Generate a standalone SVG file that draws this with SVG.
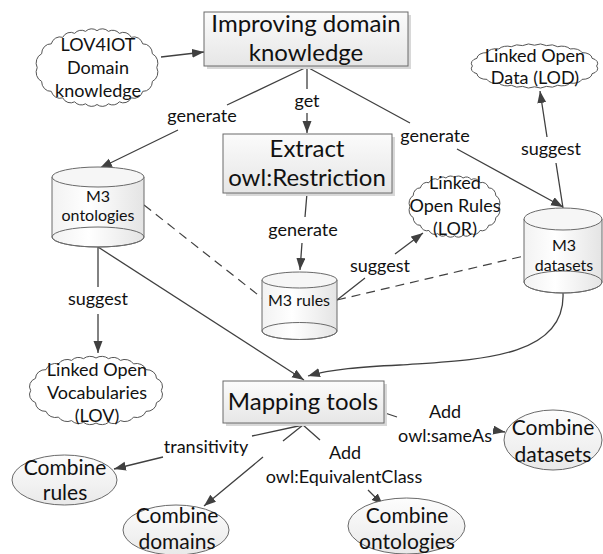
<svg xmlns="http://www.w3.org/2000/svg" xmlns:xlink="http://www.w3.org/1999/xlink" width="603" height="554" viewBox="0 0 603 554">
<defs>
<style>
.t{font-family:Lato,"Open Sans","Liberation Sans",sans-serif;fill:#111;text-anchor:middle}
.box{font-size:24px}
.lbl{font-size:18px}
.cl{font-size:18px}
.cyl{font-size:16px}
.ell{font-size:21px}
.ln{fill:none;stroke:#404040;stroke-width:1.3}
.dash{fill:none;stroke:#404040;stroke-width:1.2;stroke-dasharray:9,6}
.shape{stroke:#6a6a6a;stroke-width:1}
</style>
<linearGradient id="gBox" x1="0" y1="0" x2="0" y2="1">
<stop offset="0" stop-color="#fbfbfb"/><stop offset="1" stop-color="#e6e6e6"/>
</linearGradient>
<linearGradient id="gCyl" x1="0" y1="0" x2="1" y2="0">
<stop offset="0" stop-color="#f2f2f2"/><stop offset="0.4" stop-color="#ffffff"/><stop offset="1" stop-color="#e4e4e4"/>
</linearGradient>
<linearGradient id="gEll" x1="0" y1="0" x2="0" y2="1">
<stop offset="0" stop-color="#fdfdfd"/><stop offset="1" stop-color="#e9e9e9"/>
</linearGradient>
<marker id="arr" markerUnits="userSpaceOnUse" markerWidth="13" markerHeight="10" refX="12" refY="4.5" orient="auto">
<path d="M0,0 L12,4.5 L0,9 z" fill="#404040"/>
</marker>
<path id="cloud" vector-effect="non-scaling-stroke" fill="#fff" stroke="#555" stroke-width="1" d="M96,30 A7,7 0 0 1 92.6,39.7 A7,7 0 0 1 85.2,46.7 A7,7 0 0 1 76.4,51.3 A7,7 0 0 1 67.2,54.1 A7,7 0 0 1 58.8,55.5 A7,7 0 0 1 50,56 A7,7 0 0 1 41.2,55.5 A7,7 0 0 1 32.8,54.1 A7,7 0 0 1 23.6,51.3 A7,7 0 0 1 14.8,46.7 A7,7 0 0 1 7.4,39.7 A7,7 0 0 1 4,30 A7,7 0 0 1 7.4,20.3 A7,7 0 0 1 14.8,13.3 A7,7 0 0 1 23.6,8.7 A7,7 0 0 1 32.8,5.9 A7,7 0 0 1 41.2,4.5 A7,7 0 0 1 50,4 A7,7 0 0 1 58.8,4.5 A7,7 0 0 1 67.2,5.9 A7,7 0 0 1 76.4,8.7 A7,7 0 0 1 85.2,13.3 A7,7 0 0 1 92.6,20.3 A7,7 0 0 1 96,30 Z"/>
</defs>
<rect width="603" height="554" fill="#fff"/>

<g id="connectors">
<path class="ln" d="M161,57 L204,52" marker-end="url(#arr)"/>
<path class="ln" d="M307,67 L227,105 M178,130 L100,168" marker-end="url(#arr)"/>
<path class="ln" d="M307,67 L307,89 M307,113 L307,133" marker-end="url(#arr)"/>
<path class="ln" d="M307,67 L410,123 M457,149 L563,207" marker-end="url(#arr)"/>
<path class="ln" d="M563,208 L556,163 M547,137 L540,91" marker-end="url(#arr)"/>
<path class="ln" d="M307,193 L305,217 M302,243 L300,270" marker-end="url(#arr)"/>
<path class="ln" d="M337,300 L365,278 M395,254 L423,233" marker-end="url(#arr)"/>
<path class="dash" d="M144,205 L262,298"/>
<path class="dash" d="M337,300 L524,256"/>
<path class="ln" d="M98,247 L98,287 M98,314 L98,353" marker-end="url(#arr)"/>
<path class="ln" d="M98,247 L304,380" marker-end="url(#arr)"/>
<path class="ln" d="M563,293 C566,360 470,360 400,365 C360,367 332,369 308,376" marker-end="url(#arr)"/>
<path class="ln" d="M303,425 L252,436 M163,457 L114,469" marker-end="url(#arr)"/>
<path class="ln" d="M303,425 L283,441 M263,457 L204,506" marker-end="url(#arr)"/>
<path class="ln" d="M303,425 L320,440 M368,490 L383,505" marker-end="url(#arr)"/>
<path class="ln" d="M385,413 L397,417 M493,430 L505,432" marker-end="url(#arr)"/>
<text class="t lbl" x="202" y="122">generate</text>
<text class="t lbl" x="307" y="107">get</text>
<text class="t lbl" x="435" y="142">generate</text>
<text class="t lbl" x="551" y="155">suggest</text>
<text class="t lbl" x="303" y="236">generate</text>
<text class="t lbl" x="380" y="272">suggest</text>
<text class="t lbl" x="98" y="305">suggest</text>
<text class="t lbl" x="206" y="453">transitivity</text>
<text class="t lbl" x="445" y="418">Add</text>
<text class="t lbl" x="445" y="442">owl:sameAs</text>
<text class="t lbl" x="345" y="459">Add</text>
<text class="t lbl" x="344" y="483">owl:EquivalentClass</text>
</g>

<g id="improving">
<rect x="207" y="15" width="204" height="54" fill="#d8d8d8"/>
<rect x="204" y="12" width="204" height="54" fill="url(#gBox)" class="shape"/>
<text class="t box" x="306" y="32">Improving domain</text>
<text class="t box" x="306" y="61">knowledge</text>
</g>

<g id="extract">
<rect x="226" y="137" width="169" height="59" fill="#d8d8d8"/>
<rect x="223" y="134" width="169" height="59" fill="url(#gBox)" class="shape"/>
<text class="t box" x="307" y="157">Extract</text>
<text class="t box" x="307" y="186">owl:Restriction</text>
</g>

<g id="mapping">
<rect x="226" y="384" width="161" height="42" fill="#d8d8d8"/>
<rect x="223" y="381" width="161" height="42" fill="url(#gBox)" class="shape"/>
<text class="t box" x="303" y="410">Mapping tools</text>
</g>

<g id="lov4iot">
<use xlink:href="#cloud" transform="translate(32,25) scale(1.3,1.42)"/>
<text class="t cl" x="98" y="51">LOV4IOT</text>
<text class="t cl" x="98" y="74">Domain</text>
<text class="t cl" x="98" y="97">knowledge</text>
</g>

<g id="lod">
<use xlink:href="#cloud" transform="translate(467,42) scale(1.35,0.8)"/>
<text class="t cl" x="535" y="62">Linked Open</text>
<text class="t cl" x="535" y="84">Data (LOD)</text>
</g>

<g id="lor">
<use xlink:href="#cloud" transform="translate(406,173) scale(0.97,1.12)"/>
<text class="t cl" x="455" y="189">Linked</text>
<text class="t cl" x="455" y="212">Open Rules</text>
<text class="t cl" x="455" y="235">(LOR)</text>
</g>

<g id="lov">
<use xlink:href="#cloud" transform="translate(25,353) scale(1.42,1.25)"/>
<text class="t cl" x="97" y="376">Linked Open</text>
<text class="t cl" x="97" y="399">Vocabularies</text>
<text class="t cl" x="97" y="422">(LOV)</text>
</g>

<g id="m3ontologies">
<path d="M52,177 L52,237 A46,10 0 0 0 144,237 L144,177 Z" fill="url(#gCyl)" class="shape"/>
<ellipse cx="98" cy="237" rx="46" ry="10" fill="none" class="shape"/>
<ellipse cx="98" cy="177" rx="46" ry="10" fill="#f6f6f6" class="shape"/>
<text class="t cyl" x="98" y="202">M3</text>
<text class="t cyl" x="98" y="221">ontologies</text>
</g>

<g id="m3rules">
<path d="M262,280 L262,331 A37.5,8.5 0 0 0 337,331 L337,280 Z" fill="url(#gCyl)" class="shape"/>
<ellipse cx="299.5" cy="331" rx="37.5" ry="8.5" fill="none" class="shape"/>
<ellipse cx="299.5" cy="280" rx="37.5" ry="8" fill="#f6f6f6" class="shape"/>
<text class="t cyl" x="299" y="306">M3 rules</text>
</g>

<g id="m3datasets">
<path d="M524,219 L524,282 A39,11 0 0 0 602,282 L602,219 Z" fill="url(#gCyl)" class="shape"/>
<ellipse cx="563" cy="282" rx="39" ry="11" fill="none" class="shape"/>
<ellipse cx="563" cy="219" rx="39" ry="11" fill="#f6f6f6" class="shape"/>
<text class="t cyl" x="564" y="251">M3</text>
<text class="t cyl" x="564" y="271">datasets</text>
</g>

<g id="combine-rules">
<ellipse cx="64.5" cy="480" rx="52.5" ry="25" fill="url(#gEll)" class="shape"/>
<text class="t ell" x="65" y="475">Combine</text>
<text class="t ell" x="65" y="500">rules</text>
</g>

<g id="combine-domains">
<ellipse cx="176" cy="530" rx="53" ry="25" fill="url(#gEll)" class="shape"/>
<text class="t ell" x="177" y="523">Combine</text>
<text class="t ell" x="177" y="549">domains</text>
</g>

<g id="combine-ontologies">
<ellipse cx="406.5" cy="526" rx="58.5" ry="28" fill="url(#gEll)" class="shape"/>
<text class="t ell" x="407" y="523">Combine</text>
<text class="t ell" x="407" y="549">ontologies</text>
</g>

<g id="combine-datasets">
<ellipse cx="553" cy="440" rx="49" ry="30" fill="url(#gEll)" class="shape"/>
<text class="t ell" x="553" y="435">Combine</text>
<text class="t ell" x="553" y="462">datasets</text>
</g>
</svg>
